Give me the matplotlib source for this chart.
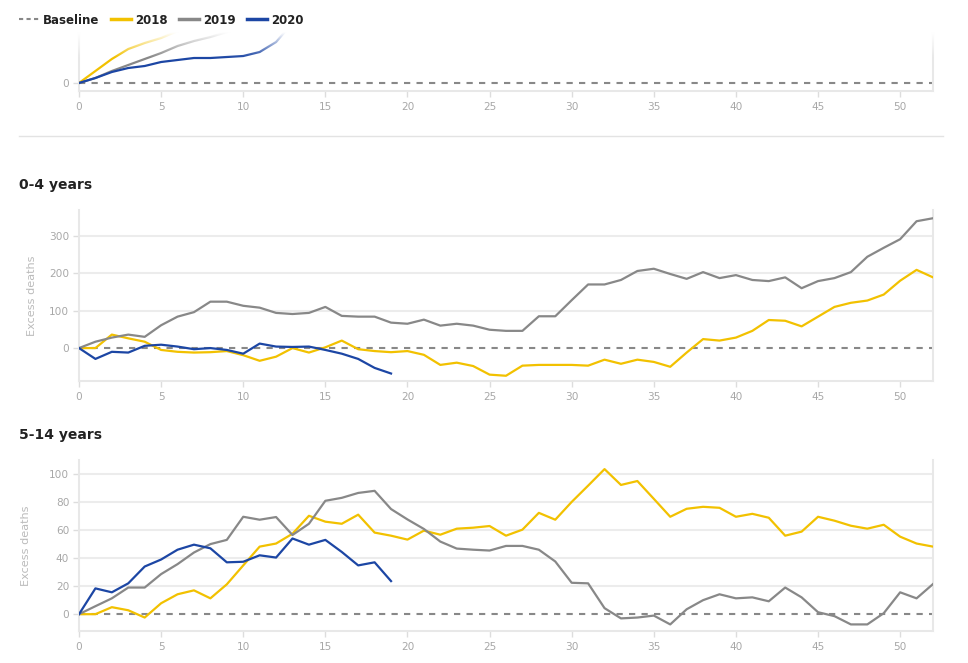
import numpy as np
import matplotlib
matplotlib.use("Agg")
import matplotlib.pyplot as plt
from matplotlib.lines import Line2D

plt.rcParams['font.family'] = ['DejaVu Sans']

weeks = list(range(53))

# partial "all ages" panel (cut off at the top of the picture)
top_2018 = [0, 12, 24, 34, 40, 45, 52, 58, 64, 70]
top_2019 = [0, 5, 12, 18, 24, 30, 37, 42, 46, 51, 56]
top_2020 = [0, 5, 11, 15, 17, 21, 23, 25, 25, 26, 27, 31, 41, 60, 80]

age_0_4_2018 = [0, 0, 36, 26, 17, -5, -10, -12, -11, -8, -19, -34, -23, 0, -12, 2, 20,
                -3, -8, -11, -8, -18, -45, -39, -48, -71, -74, -47, -45, -45, -45, -47,
                -31, -42, -31, -37, -50, -12, 24, 20, 28, 46, 75, 73, 58, 84, 110, 121,
                127, 143, 180, 209, 189]
age_0_4_2019 = [0, 17, 28, 36, 30, 61, 84, 96, 124, 124, 113, 108, 94, 91, 94, 110, 86,
                84, 84, 68, 65, 76, 60, 65, 60, 49, 46, 46, 85, 85, 128, 170, 170, 182,
                206, 212, 198, 185, 203, 187, 195, 182, 179, 189, 160, 179, 187, 203, 244,
                268, 291, 339, 347]
age_0_4_2020 = [0, -29, -10, -12, 6, 9, 4, -3, 0, -5, -15, 12, 4, 3, 4, -5, -15, -29,
                -53, -68]

age_5_14_2018 = [0, 0, 5, 2.8, -2.4, 7.8, 14.2, 17, 11.3, 21.3, 34.8, 48.2, 50.4, 57.4,
                 70.2, 66, 64.5, 71, 58.2, 56, 53.2, 59.6, 56.7, 61, 61.7, 62.9, 56, 60.3,
                 72.3, 67.4, 80.1, 91.7, 103.5, 92.2, 95, 82.3, 69.5, 75.2, 76.6, 75.9,
                 69.5, 71.6, 68.8, 56, 58.9, 69.5, 66.7, 63.1, 61, 63.8, 55.3, 50.4, 48.2]
age_5_14_2019 = [0, 5.7, 11.3, 19, 19, 28.6, 35.7, 44, 50, 53, 69.5, 67.4, 69.3, 56.5,
                 64.5, 80.9, 83, 86.5, 88, 75, 67.6, 60.8, 51.8, 46.8, 46, 45.4, 48.7, 48.7,
                 46, 37.6, 22.4, 22, 4.3, -3, -2.4, -1, -7.3, 3.5, 10, 14.2, 11.3, 12, 9.2,
                 19, 12, 1.4, -1.4, -7.3, -7.3, 0.7, 15.6, 11.3, 21.5]
age_5_14_2020 = [0, 18.4, 15.6, 22, 34, 39, 46, 49.6, 47, 37, 37.4, 42, 40.4, 54, 49.6,
                 53, 44.4, 34.8, 37, 23.6]

years = ["2018", "2019", "2020"]
colors = {"2018": "#f2c100", "2019": "#888888", "2020": "#1c46a4"}
tick_color = "#a8a8a8"
grid_color = "#ececec"

W, H = 968, 663
fig = plt.figure(figsize=(W / 100, H / 100), dpi=100)


def box(x0, y0, x1, y1):
    return [x0 / W, 1 - y1 / H, (x1 - x0) / W, (y1 - y0) / H]


def style_axes(ax, yticks, ylim):
    ax.set_xlim(0, 52)
    ax.set_ylim(*ylim)
    ax.set_xticks(range(0, 51, 5))
    ax.set_yticks(yticks)
    ax.spines["top"].set_visible(False)
    for side in ["left", "right", "bottom"]:
        ax.spines[side].set_color("#e8e8e8")
        ax.spines[side].set_linewidth(1.5)
    ax.tick_params(colors="#dddddd", labelcolor=tick_color, labelsize=7.6, length=4,
                   width=1)
    ax.tick_params(axis="y", pad=3)
    ax.tick_params(axis="x", pad=4)
    for t in yticks:
        if t != 0:
            ax.axhline(t, color=grid_color, lw=1.5, zorder=0)
    ax.axhline(0, color="#888888", lw=1.5, ls=(0, (3, 3)), zorder=1)


def plot_series(ax, series):
    for yr, vals in zip(years, series):
        ax.plot(weeks[:len(vals)], vals, color=colors[yr], lw=1.6, zorder=3)


# top (cut off) panel
ax0 = fig.add_axes(box(79, 28, 933, 91))
style_axes(ax0, [0], (-8, 55))
plot_series(ax0, [top_2018, top_2019, top_2020])

# fade towards the top of the cut-off panel
fade = fig.add_axes(box(60, 26, 940, 58), zorder=5)
grad = np.ones((64, 2, 4))
grad[:, :, 3] = np.clip(np.linspace(1.25, 0, 64), 0, 1)[:, None]
fade.imshow(grad, aspect="auto", extent=(0, 1, 0, 1), origin="upper")
fade.axis("off")

fig.add_artist(Line2D([19 / W, 943 / W], [1 - 136 / H] * 2, color="#e3e3e3", lw=1))

# 0-4 years
ax1 = fig.add_axes(box(79, 210, 933, 381))
style_axes(ax1, [0, 100, 200, 300], (-88, 369))
plot_series(ax1, [age_0_4_2018, age_0_4_2019, age_0_4_2020])
ax1.set_ylabel("Excess deaths", color="#bbbbbb", fontsize=8.1, labelpad=9)
fig.text(19 / W, 1 - 185 / H, "0-4 years", fontsize=10, fontweight="bold",
         color="#222222", va="center")

# 5-14 years
ax2 = fig.add_axes(box(79, 460, 933, 631))
style_axes(ax2, [0, 20, 40, 60, 80, 100], (-12, 110))
plot_series(ax2, [age_5_14_2018, age_5_14_2019, age_5_14_2020])
ax2.set_ylabel("Excess deaths", color="#bbbbbb", fontsize=8.1, labelpad=13)
fig.text(19 / W, 1 - 435 / H, "5-14 years", fontsize=10, fontweight="bold",
         color="#222222", va="center")

handles = [Line2D([], [], color="#888888", lw=1.5, ls=(0, (2, 1.6)))]
handles += [Line2D([], [], color=colors[yr], lw=2.5) for yr in years]
leg = fig.legend(handles, ["Baseline"] + years, loc="center left",
                 bbox_to_anchor=(19 / W, 1 - 20 / H), ncol=4, frameon=False,
                 borderpad=0, borderaxespad=0,
                 handlelength=1.7, handletextpad=0.35, columnspacing=0.95,
                 prop={"size": 8.5, "weight": "bold"})
for t in leg.get_texts():
    t.set_color("#222222")

fig.savefig("out.png", dpi=100)
